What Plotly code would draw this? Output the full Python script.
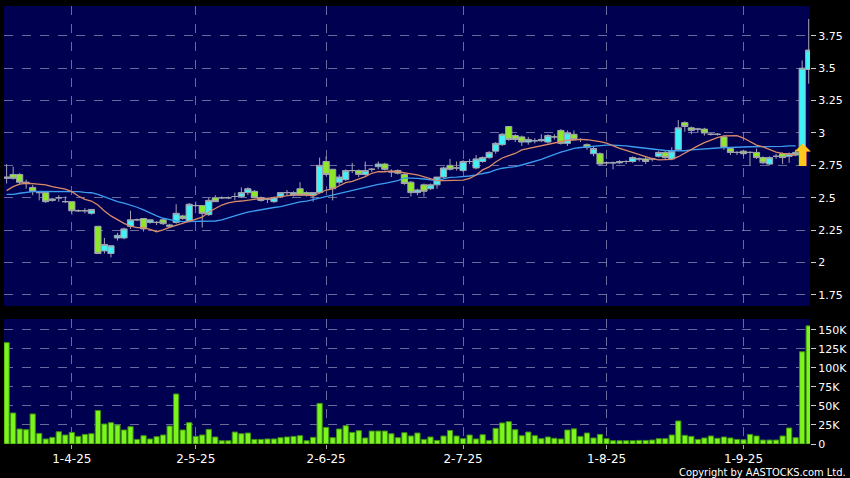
import plotly.graph_objects as go

# ---------------- data ----------------
month_days = {
    "2025-03": [18, 19, 20, 21, 24, 25, 26, 27, 28, 31],
    "2025-04": [1, 2, 3, 7, 8, 9, 10, 11, 14, 15, 16, 17, 22, 23, 24, 25, 28, 29, 30],
    "2025-05": [2, 6, 7, 8, 9, 12, 13, 14, 15, 16, 19, 20, 21, 22, 23, 26, 27, 28, 29, 30],
    "2025-06": [2, 3, 4, 5, 6, 9, 10, 11, 12, 13, 16, 17, 18, 19, 20, 23, 24, 25, 26, 27, 30],
    "2025-07": [2, 3, 4, 7, 8, 9, 10, 11, 14, 15, 16, 17, 18, 21, 22, 23, 24, 25, 28, 29, 30, 31],
    "2025-08": [1, 4, 5, 6, 7, 8, 11, 12, 13, 14, 15, 18, 19, 20, 21, 22, 25, 26, 27, 28, 29],
    "2025-09": [1, 2, 3, 4, 5, 8, 9, 10, 11, 12, 15],
}
dates = [f"{m}-{d:02d}" for m, days in month_days.items() for d in days]

opens = [
    2.65, 2.68, 2.68, 2.62, 2.58, 2.54, 2.54, 2.48, 2.50, 2.47,
    2.47, 2.40, 2.40, 2.38, 2.28, 2.09, 2.07, 2.19, 2.19, 2.28,
    2.33, 2.34, 2.31, 2.31, 2.33, 2.29, 2.31, 2.36, 2.32, 2.44,
    2.44, 2.37, 2.50, 2.50, 2.50, 2.51, 2.51, 2.54, 2.55, 2.50,
    2.49, 2.47, 2.51, 2.54, 2.52, 2.57, 2.54, 2.52, 2.54, 2.78,
    2.72, 2.62, 2.64, 2.71, 2.71, 2.68, 2.72, 2.74, 2.76, 2.70,
    2.71, 2.68, 2.62, 2.54, 2.60, 2.57, 2.60, 2.66, 2.75, 2.73,
    2.71, 2.78, 2.73, 2.78, 2.81, 2.86, 2.91, 3.05, 2.98, 2.97,
    2.93, 2.94, 2.94, 2.93, 2.97, 3.02, 2.92, 2.99, 2.95, 2.91,
    2.84, 2.84, 2.77, 2.77, 2.77, 2.78, 2.78, 2.80, 2.80, 2.80,
    2.82, 2.85, 2.80, 2.87, 3.08, 3.04, 3.03, 3.03, 2.99, 2.99,
    2.97, 2.88, 2.85, 2.86, 2.85, 2.85, 2.81, 2.76, 2.82, 2.84,
    2.82, 2.83, 2.89, 3.49]
highs = [
    2.76, 2.74, 2.69, 2.64, 2.60, 2.55, 2.54, 2.50, 2.52, 2.51,
    2.47, 2.41, 2.42, 2.41, 2.28, 2.19, 2.13, 2.23, 2.27, 2.40,
    2.34, 2.34, 2.33, 2.32, 2.34, 2.30, 2.45, 2.37, 2.46, 2.47,
    2.44, 2.50, 2.52, 2.51, 2.51, 2.54, 2.58, 2.58, 2.56, 2.51,
    2.50, 2.51, 2.54, 2.56, 2.55, 2.62, 2.55, 2.54, 2.81, 2.82,
    2.72, 2.68, 2.72, 2.77, 2.72, 2.78, 2.73, 2.78, 2.77, 2.72,
    2.72, 2.69, 2.63, 2.57, 2.61, 2.61, 2.66, 2.74, 2.80, 2.78,
    2.79, 2.80, 2.83, 2.82, 2.86, 2.93, 3.00, 3.05, 2.99, 2.98,
    2.97, 2.96, 2.99, 2.99, 2.99, 3.03, 3.02, 3.02, 2.96, 2.92,
    2.90, 2.85, 2.78, 2.78, 2.79, 2.79, 2.82, 2.81, 2.82, 2.81,
    2.86, 2.86, 2.89, 3.10, 3.09, 3.05, 3.04, 3.04, 3.00, 3.00,
    2.98, 2.89, 2.86, 2.87, 2.86, 2.88, 2.82, 2.82, 2.84, 2.85,
    2.85, 2.87, 3.56, 3.88]
lows = [
    2.61, 2.64, 2.60, 2.57, 2.52, 2.48, 2.46, 2.47, 2.47, 2.46,
    2.37, 2.39, 2.38, 2.37, 2.07, 2.07, 2.04, 2.17, 2.18, 2.26,
    2.32, 2.24, 2.30, 2.29, 2.29, 2.27, 2.30, 2.33, 2.31, 2.43,
    2.27, 2.36, 2.47, 2.49, 2.49, 2.48, 2.50, 2.52, 2.50, 2.47,
    2.46, 2.46, 2.50, 2.52, 2.51, 2.52, 2.51, 2.47, 2.53, 2.67,
    2.48, 2.60, 2.63, 2.69, 2.66, 2.67, 2.70, 2.72, 2.71, 2.66,
    2.68, 2.60, 2.51, 2.52, 2.51, 2.56, 2.57, 2.65, 2.71, 2.71,
    2.70, 2.76, 2.72, 2.77, 2.80, 2.84, 2.90, 2.94, 2.93, 2.90,
    2.91, 2.92, 2.93, 2.92, 2.95, 2.91, 2.90, 2.95, 2.93, 2.87,
    2.82, 2.75, 2.75, 2.72, 2.76, 2.76, 2.77, 2.78, 2.76, 2.78,
    2.81, 2.80, 2.79, 2.86, 3.01, 2.99, 3.00, 2.98, 2.98, 2.98,
    2.87, 2.83, 2.83, 2.82, 2.75, 2.80, 2.76, 2.75, 2.80, 2.76,
    2.77, 2.82, 2.86, 3.38]
closes = [
    2.66, 2.65, 2.62, 2.61, 2.55, 2.54, 2.47, 2.49, 2.50, 2.47,
    2.40, 2.40, 2.40, 2.41, 2.07, 2.14, 2.13, 2.21, 2.26, 2.33,
    2.33, 2.26, 2.33, 2.31, 2.30, 2.28, 2.38, 2.34, 2.45, 2.44,
    2.38, 2.48, 2.47, 2.50, 2.50, 2.51, 2.54, 2.57, 2.50, 2.48,
    2.49, 2.50, 2.54, 2.54, 2.54, 2.52, 2.52, 2.54, 2.75, 2.68,
    2.57, 2.66, 2.71, 2.71, 2.68, 2.71, 2.72, 2.76, 2.72, 2.70,
    2.69, 2.61, 2.54, 2.56, 2.55, 2.60, 2.66, 2.73, 2.72, 2.73,
    2.78, 2.78, 2.80, 2.81, 2.85, 2.92, 2.99, 2.95, 2.95, 2.93,
    2.95, 2.94, 2.95, 2.98, 2.97, 2.92, 3.00, 2.95, 2.95, 2.89,
    2.88, 2.76, 2.77, 2.77, 2.78, 2.78, 2.81, 2.80, 2.78, 2.80,
    2.85, 2.81, 2.86, 3.04, 3.05, 3.02, 3.03, 3.00, 2.99, 2.99,
    2.89, 2.85, 2.85, 2.84, 2.85, 2.81, 2.77, 2.81, 2.82, 2.81,
    2.84, 2.85, 3.50, 3.64]

# volume in thousands of shares
volume_k = [
    133, 40.7, 19.7, 18.8, 39.4, 13.9, 6.6, 8.7, 16.1, 11.8,
    15.2, 10.0, 12.6, 13.5, 44.0, 26.2, 28.0, 25.0, 18.4, 22.7,
    6.0, 10.9, 6.6, 9.6, 11.8, 23.6, 65.6, 18.4, 28.0, 10.0,
    11.8, 19.2, 9.2, 4.3, 4.3, 15.7, 13.5, 14.4, 6.0, 6.0,
    6.6, 6.6, 8.3, 9.2, 10.0, 10.9, 4.3, 8.7, 53.3, 21.8,
    8.3, 19.7, 24.0, 15.2, 17.5, 7.9, 17.0, 17.0, 17.0, 13.5,
    8.3, 14.8, 10.5, 14.4, 6.0, 9.2, 4.7, 10.5, 17.8, 10.5,
    7.0, 11.8, 6.6, 12.2, 4.7, 20.5, 27.6, 29.3, 18.8, 10.9,
    15.7, 10.9, 7.0, 9.2, 7.5, 6.6, 18.4, 19.9, 10.0, 14.4,
    7.9, 12.6, 7.0, 4.3, 4.3, 4.3, 4.3, 4.7, 4.7, 5.2,
    7.0, 7.0, 11.8, 30.2, 11.4, 10.0, 6.0, 7.9, 10.5, 7.5,
    9.2, 7.9, 6.0, 5.6, 12.6, 10.5, 5.2, 5.2, 5.2, 10.5,
    21.0, 8.3, 121, 155]

ma10 = [
    2.555, 2.586, 2.606, 2.612, 2.609, 2.606, 2.599, 2.586, 2.578, 2.566,
    2.547, 2.514, 2.488, 2.475, 2.444, 2.398, 2.360, 2.329, 2.303, 2.282,
    2.269, 2.269, 2.257, 2.238, 2.252, 2.272, 2.288, 2.303, 2.321, 2.334,
    2.350, 2.390, 2.419, 2.444, 2.460, 2.471, 2.475, 2.483, 2.488, 2.495,
    2.496, 2.502, 2.508, 2.514, 2.522, 2.522, 2.522, 2.514, 2.539, 2.560,
    2.568, 2.593, 2.617, 2.627, 2.643, 2.663, 2.689, 2.701, 2.701, 2.707,
    2.701, 2.695, 2.684, 2.676, 2.660, 2.650, 2.632, 2.632, 2.632, 2.633,
    2.637, 2.650, 2.676, 2.715, 2.738, 2.776, 2.807, 2.826, 2.842, 2.869,
    2.880, 2.890, 2.900, 2.911, 2.927, 2.938, 2.944, 2.946, 2.951, 2.948,
    2.942, 2.933, 2.921, 2.900, 2.882, 2.865, 2.848, 2.830, 2.817, 2.803,
    2.792, 2.794, 2.797, 2.817, 2.846, 2.869, 2.900, 2.925, 2.946, 2.964,
    2.977, 2.978, 2.979, 2.961, 2.934, 2.907, 2.892, 2.874, 2.853, 2.842,
    2.836, 2.830]
ma20 = [
    2.527, 2.527, 2.535, 2.542, 2.547, 2.550, 2.550, 2.550, 2.550, 2.550,
    2.547, 2.547, 2.542, 2.539, 2.527, 2.508, 2.488, 2.470, 2.458, 2.444,
    2.427, 2.406, 2.380, 2.360, 2.342, 2.329, 2.321, 2.316, 2.316, 2.316,
    2.316, 2.319, 2.321, 2.329, 2.346, 2.360, 2.375, 2.390, 2.400, 2.410,
    2.419, 2.425, 2.431, 2.444, 2.458, 2.468, 2.475, 2.487, 2.496, 2.510,
    2.522, 2.535, 2.547, 2.556, 2.566, 2.578, 2.591, 2.603, 2.612, 2.622,
    2.632, 2.653, 2.653, 2.650, 2.645, 2.637, 2.633, 2.645, 2.658, 2.660,
    2.663, 2.668, 2.676, 2.687, 2.697, 2.715, 2.728, 2.734, 2.740, 2.753,
    2.766, 2.779, 2.796, 2.815, 2.834, 2.853, 2.865, 2.882, 2.888, 2.894,
    2.900, 2.904, 2.907, 2.907, 2.905, 2.900, 2.894, 2.888, 2.882, 2.877,
    2.869, 2.865, 2.863, 2.863, 2.863, 2.869, 2.874, 2.878, 2.882, 2.884,
    2.887, 2.887, 2.887, 2.892, 2.894, 2.894, 2.894, 2.894, 2.894, 2.897,
    2.900, 2.900]

signal_index = 122
signal_price = 2.83

tick_dates = ["2025-04-01", "2025-05-02", "2025-06-02", "2025-07-02", "2025-08-01", "2025-09-01"]
tick_labels = ["1-4-25", "2-5-25", "2-6-25", "2-7-25", "1-8-25", "1-9-25"]
price_ticks = [1.75, 2.0, 2.25, 2.5, 2.75, 3.0, 3.25, 3.5, 3.75]
price_tick_labels = ["1.75", "2", "2.25", "2.5", "2.75", "3", "3.25", "3.5", "3.75"]
vol_ticks = [0, 25, 50, 75, 100, 125, 150]
vol_tick_labels = ["0", "25K", "50K", "75K", "100K", "125K", "150K"]

# ---------------- figure ----------------
FONT = "DejaVu Sans"
GRID = "rgba(140,140,185,0.75)"
WICK = "#a4a4b0"

fig = go.Figure()
fig.add_trace(go.Candlestick(
    x=dates, open=opens, high=highs, low=lows, close=closes,
    increasing=dict(fillcolor="#3ff2f8", line=dict(color=WICK, width=1)),
    decreasing=dict(fillcolor="#8ee82a", line=dict(color=WICK, width=1)),
    whiskerwidth=0, xaxis="x", yaxis="y", showlegend=False, hoverinfo="skip"))
fig.add_trace(go.Scatter(x=dates[:len(ma20)], y=ma20, mode="lines",
                         line=dict(color="#3d9cf0", width=1.3), xaxis="x", yaxis="y",
                         showlegend=False, hoverinfo="skip"))
fig.add_trace(go.Scatter(x=dates[:len(ma10)], y=ma10, mode="lines",
                         line=dict(color="#d98a68", width=1.3), xaxis="x", yaxis="y",
                         showlegend=False, hoverinfo="skip"))
fig.add_trace(go.Bar(x=dates, y=volume_k, xaxis="x2", yaxis="y2",
                     marker=dict(color="#7cf51e", line=dict(color="#3f8f10", width=1)),
                     showlegend=False, hoverinfo="skip"))

fig.add_annotation(x=dates[signal_index], y=signal_price, xref="x", yref="y",
                   text="<b>⬆</b>", showarrow=False,
                   font=dict(family=FONT, size=30, color="#ffc81e"))

fig.add_annotation(xref="paper", yref="paper", x=1.047, y=-0.066,
                   xanchor="right", yanchor="middle", showarrow=False,
                   text="Copyright by AASTOCKS.com Ltd.",
                   font=dict(family="Liberation Sans Narrow, DejaVu Sans Condensed, Liberation Sans",
                             size=11, color="#ffffff"))

xcommon = dict(type="category", range=[-0.4, 123.2], tickmode="array",
               tickvals=tick_dates, showgrid=True, gridcolor=GRID, griddash="dash",
               gridwidth=1, zeroline=False, showline=False, fixedrange=True)

fig.update_layout(
    width=850, height=478,
    margin=dict(l=4, r=40, t=6, b=34),
    paper_bgcolor="#000000", plot_bgcolor="#000050",
    font=dict(family=FONT, color="#ffffff", size=11),
    boxgap=0.05, boxgroupgap=0, bargap=0.2,
    xaxis=dict(**xcommon, domain=[0, 1], anchor="y", showticklabels=False,
               rangeslider=dict(visible=False)),
    xaxis2=dict(**xcommon, domain=[0, 1], anchor="y2", matches="x",
                ticktext=tick_labels, showticklabels=True, ticks="outside",
                ticklen=4, tickcolor="#aaaaaa", tickfont=dict(size=12, color="#ffffff")),
    yaxis=dict(domain=[0.3151, 1], side="right", range=[1.665, 3.98],
               tickmode="array", tickvals=price_ticks, ticktext=price_tick_labels,
               ticks="outside", ticklen=5, tickcolor="#cccccc",
               showgrid=True, gridcolor=GRID, griddash="dash", zeroline=False,
               showline=False, tickfont=dict(size=11, color="#ffffff"), fixedrange=True),
    yaxis2=dict(domain=[0, 0.2854], side="right", range=[0, 164],
                tickmode="array", tickvals=vol_ticks, ticktext=vol_tick_labels,
                ticks="outside", ticklen=5, tickcolor="#cccccc",
                showgrid=True, gridcolor=GRID, griddash="dash", zeroline=False,
                showline=False, tickfont=dict(size=11, color="#ffffff"), fixedrange=True),
)

fig.write_html("out.html",
               config={"displayModeBar": False},
               post_script="document.body.style.margin='0';document.body.style.background='#000';")
